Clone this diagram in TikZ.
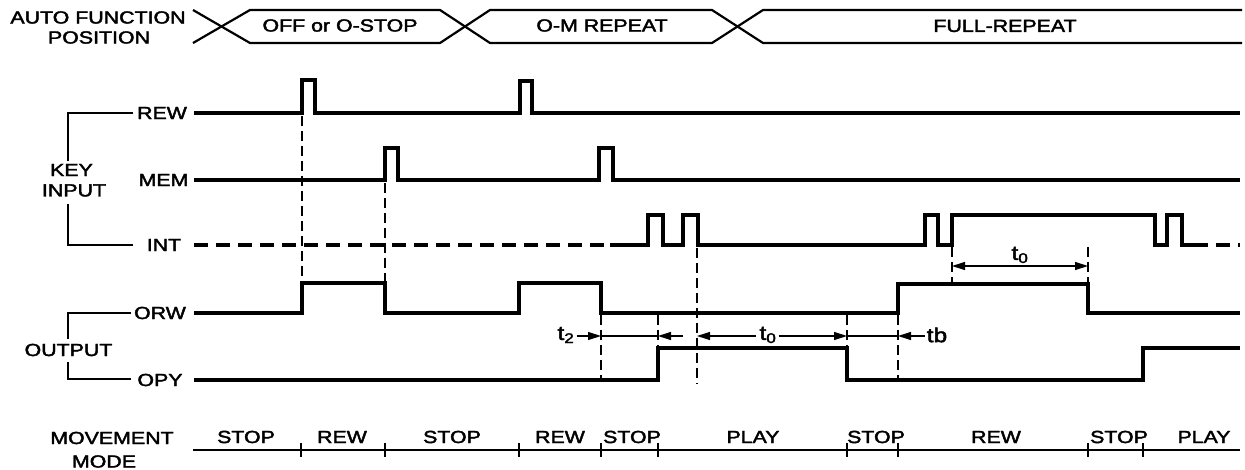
\documentclass[tikz,border=0pt]{standalone}
\usepackage{fontspec}
\setmainfont{Liberation Sans}
\newfontfamily\lblfont{Liberation Sans}[FakeBold=2]
\usetikzlibrary{arrows.meta}
\newcommand{\widetext}[1]{\scalebox{1.22}[1]{#1}}
\begin{document}
\begin{tikzpicture}[x=1pt,y=-1pt,
  txt/.style={inner sep=0pt, font=\lblfont\fontsize{17.5}{19}\selectfont},
  ttxt/.style={inner sep=0pt, font=\lblfont\fontsize{20}{22}\selectfont},
  sig/.style={line width=3.2pt, line cap=butt, line join=miter},
  sigdash/.style={sig, dash pattern=on 14pt off 8pt},
  brk/.style={line width=1.4pt},
  band/.style={line width=2.2pt},
  vdash/.style={line width=1.7pt, dash pattern=on 10pt off 5pt},
  dimline/.style={line width=1.3pt},
  tipr/.style={-{Triangle[length=13pt,width=8pt]}},
  tipb/.style={{Triangle[length=13pt,width=8pt]}-{Triangle[length=13pt,width=8pt]}},
  modeline/.style={line width=2.2pt},
  tickmark/.style={line width=2.8pt}
]
\useasboundingbox (0,0) rectangle (1245,470);

% ---- auto function position band
\node[txt] (afp1) at (98,17.5) {\widetext{AUTO FUNCTION}};
\node[txt] (afp2) at (99,37.5) {\widetext{POSITION}};
\draw[band] (193,10)--(250,43)--(440,43)--(490,10)--(712,10)--(763,43)--(1242,43);
\draw[band] (193,43)--(250,10)--(440,10)--(490,43)--(712,43)--(763,10)--(1242,10);
\node[txt] (pos1) at (340,25.5) {\widetext{OFF or O-STOP}};
\node[txt] (pos2) at (602,25.5) {\widetext{O-M REPEAT}};
\node[txt] (pos3) at (1005,26) {\widetext{FULL-REPEAT}};

% ---- left labels and brackets
\node[txt] (lrew) at (162,113) {\widetext{REW}};
\node[txt] (lmem) at (163.5,180) {\widetext{MEM}};
\node[txt] (lint) at (164,245) {\widetext{INT}};
\node[txt] (lorw) at (160,313) {\widetext{ORW}};
\node[txt] (lopy) at (160,380) {\widetext{OPY}};
\node[txt] (key) at (71.5,170) {\widetext{KEY}};
\node[txt] (inp) at (74,190.5) {\widetext{INPUT}};
\node[txt] (outp) at (68.5,350) {\widetext{OUTPUT}};
\draw[brk] (133,113)--(68,113)--(68,161);
\draw[brk] (68,204)--(68,245)--(133,245);
\draw[brk] (131,313)--(68,313)--(68,339);
\draw[brk] (68,362)--(68,379)--(131,379);

% ---- waveforms
\draw[sig] (194,113)--(302,113)--(302,80)--(315,80)--(315,113)--(520,113)--(520,81)--(532,81)--(532,113)--(1240,113);
\draw[sig] (194,180)--(385,180)--(385,148)--(398,148)--(398,180)--(599,180)--(599,148)--(613,148)--(613,180)--(1240,180);
\draw[sigdash] (194,245)--(610,245);
\draw[sig] (610,245)--(648,245)--(648,215)--(663,215)--(663,245)--(683,245)--(683,215)--(698,215)--(698,245)--(925,245)--(925,215)--(938,215)--(938,245)--(952,245)--(952,215)--(1155,215)--(1155,245)--(1167,245)--(1167,215)--(1182,215)--(1182,245)--(1194,245);
\draw[sigdash] (1194,245)--(1240,245);
\draw[sig] (194,313)--(302,313)--(302,283)--(385,283)--(385,313)--(519,313)--(519,283)--(601,283)--(601,313)--(898,313)--(898,284)--(1088,284)--(1088,313)--(1240,313);
\draw[sig] (194,380)--(658,380)--(658,348)--(847,348)--(847,380)--(1143,380)--(1143,348)--(1240,348);

% ---- dashed guide lines
\draw[vdash] (302,116)--(302,282);
\draw[vdash] (385,183)--(385,282);
\draw[vdash] (601,315)--(601,379);
\draw[vdash] (658,315)--(658,347);
\draw[vdash] (697,248)--(697,384);
\draw[vdash] (847,315)--(847,347);
\draw[vdash] (898,315)--(898,379);
\draw[vdash] (952,247)--(952,283);
\draw[vdash] (1088,247)--(1088,283);

% ---- timing dimensions
\node[ttxt] (t2) at (566,335) {\widetext{t\textsubscript{2}}};
\draw[dimline,tipr] (t2.east)+(2,1) -- (601,336);
\draw[dimline] (601,336)--(658,336);
\draw[dimline,tipr] (683,336)--(658,336);
\node[ttxt] (t0a) at (768,335) {\widetext{t\textsubscript{0}}};
\draw[dimline,tipr] (t0a.west)+(-3,1)--(697,336);
\draw[dimline,tipr] (t0a.east)+(2,1)--(847,336);
\draw[dimline] (847,336)--(898,336);
\node[ttxt] (tb) at (937,335) {\widetext{tb}};
\draw[dimline,tipr] (tb.west)+(-2,1)--(898,336);
\node[ttxt] (t0b) at (1020,255) {\widetext{t\textsubscript{0}}};
\draw[dimline,tipb] (952,266)--(1088,266);

% ---- movement mode
\node[txt] (mv1) at (112,438) {\widetext{MOVEMENT}};
\node[txt] (mv2) at (104,461.5) {\widetext{MODE}};
\draw[modeline] (193,450)--(1240,450);
\foreach \x in {301,385,519,601,658,847,898,1088,1143}
  \draw[tickmark] (\x,443)--(\x,457);
\foreach \x/\t [count=\i] in {246/STOP,342/REW,452/STOP,560/REW,632/STOP,753/PLAY,876/STOP,996/REW,1119/STOP,1204/PLAY}
  \node[txt] (m\i) at (\x,437) {\widetext{\t}};
\end{tikzpicture}
\end{document}
